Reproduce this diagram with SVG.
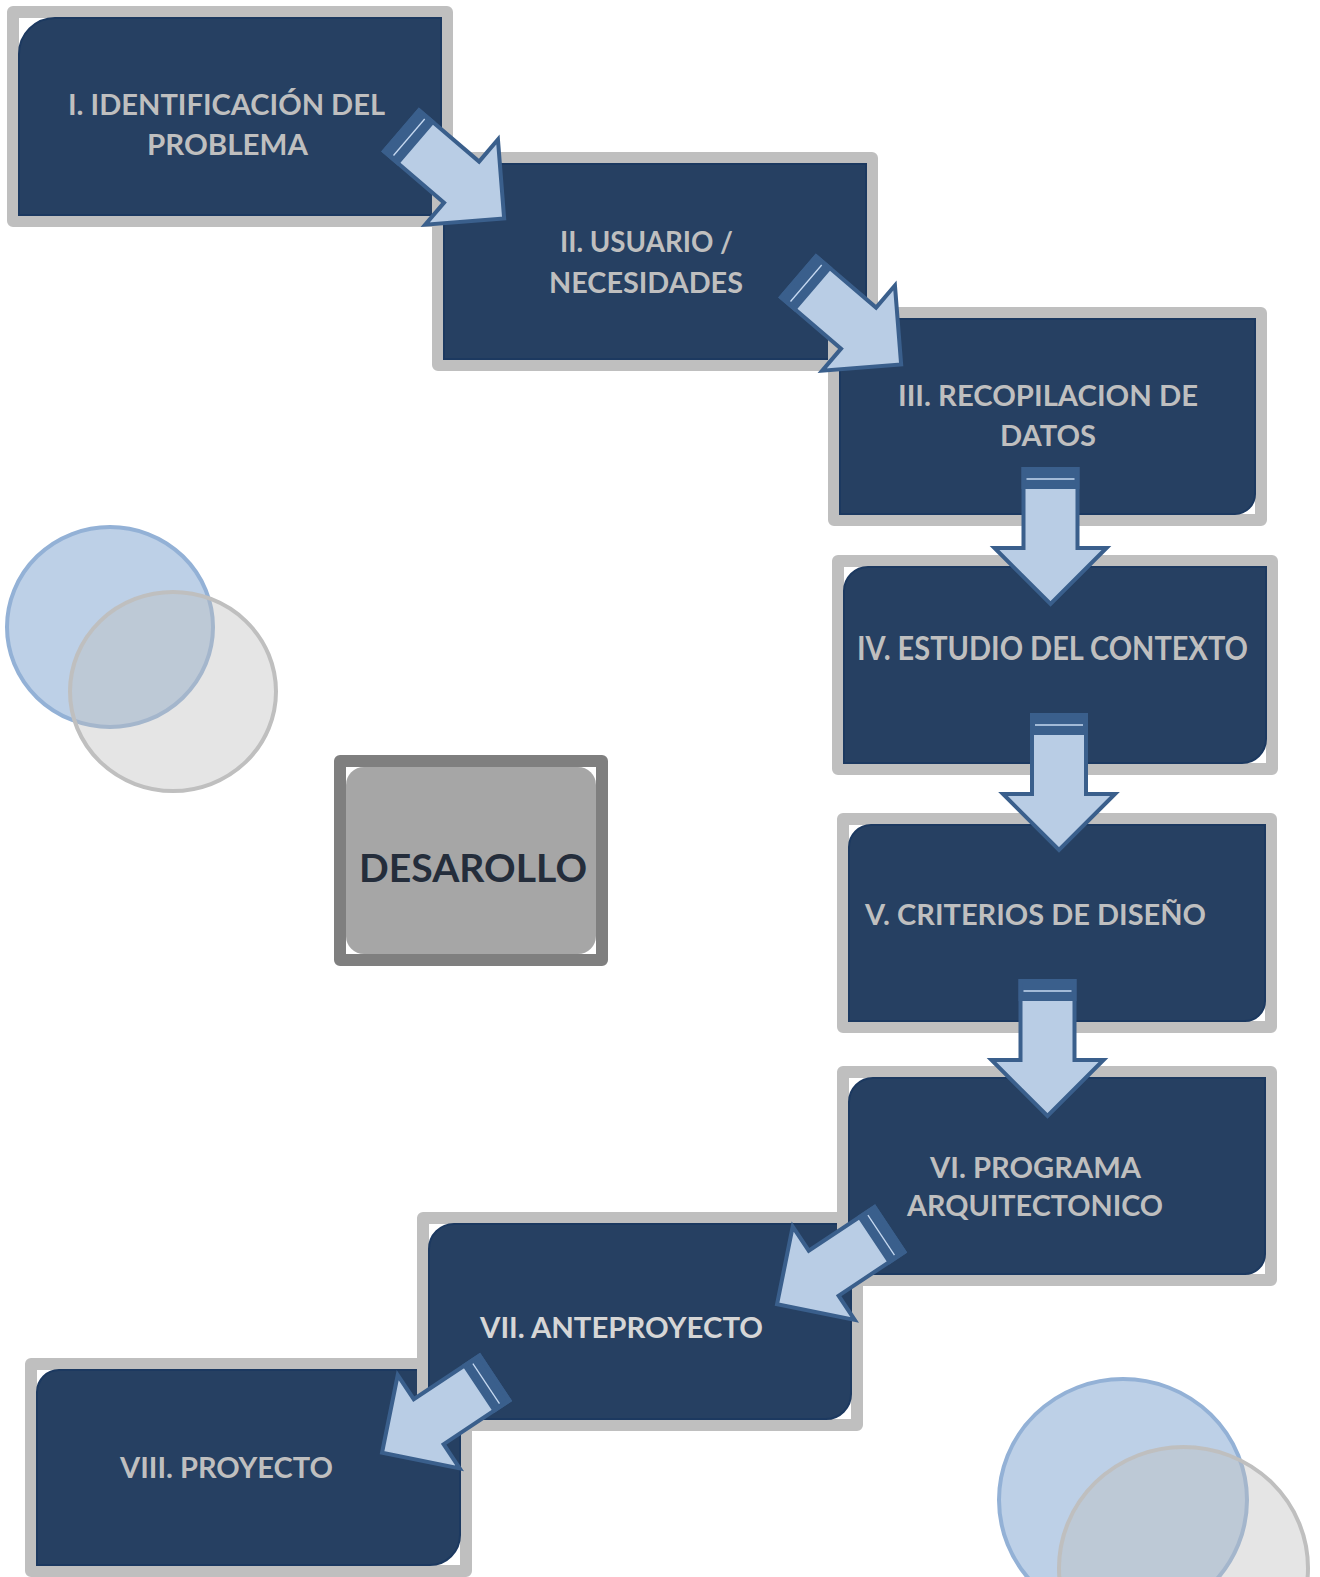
<svg xmlns="http://www.w3.org/2000/svg" xmlns:xlink="http://www.w3.org/1999/xlink" width="1320" height="1577" viewBox="0 0 1320 1577">
<style>
.frame{fill:#ffffff;stroke:#bfbfbf;stroke-width:12;stroke-linejoin:round}
.dark{fill:#264062;stroke:#1c3960;stroke-width:2}
.lbl{font-family:Lato,"Open Sans","Liberation Sans",sans-serif;font-weight:bold;font-size:28.6px;fill:#bfbfbf;text-anchor:middle}
.cb{fill:#bdd0e7;stroke:#93b1d6;stroke-width:4}
.cg{fill:#bfbfbf;fill-opacity:0.4;stroke:#bfbfbf;stroke-width:4}
</style>
<defs>
<g id="arr">
<path d="M0,-27 H79 V-56 L135,0 L79,56 V27 H0 Z" fill="#b9cde5" stroke="#3a5f8c" stroke-width="4" stroke-linejoin="miter"/>
<rect x="0" y="-27" width="18" height="54" fill="#3a5f8c" stroke="#3a5f8c" stroke-width="4"/>
<line x1="10" y1="-24" x2="10" y2="24" stroke="#c6d9f1" stroke-width="1.3"/>
</g>
</defs>
<g id="deco">
<ellipse class="cb" cx="110" cy="627" rx="103" ry="100"/>
<ellipse class="cg" cx="173" cy="691.5" rx="103" ry="99.5"/>
<ellipse class="cb" cx="1123" cy="1500" rx="124" ry="121"/>
<ellipse class="cg" cx="1183.5" cy="1568" rx="124.5" ry="121"/>
</g>
<g id="n1">
<rect class="frame" x="13" y="12" width="434" height="209"/>
<path class="dark" d="M55,18 H441 V215 H19 V54 A36,36 0 0 1 55,18 Z"/>
<text class="lbl" x="226.5" y="115" textLength="317" lengthAdjust="spacingAndGlyphs">I. IDENTIFICACIÓN DEL</text>
<text class="lbl" x="227.5" y="155" textLength="161" lengthAdjust="spacingAndGlyphs">PROBLEMA</text>
</g>
<g id="n2">
<rect class="frame" x="438" y="158" width="434" height="207"/>
<rect class="dark" x="444" y="164" width="422" height="195"/>
<text class="lbl" x="646.5" y="252" textLength="173" lengthAdjust="spacingAndGlyphs">II. USUARIO /</text>
<text class="lbl" x="646" y="293" textLength="194" lengthAdjust="spacingAndGlyphs">NECESIDADES</text>
</g>
<g id="n3">
<rect class="frame" x="834" y="313" width="427" height="207"/>
<path class="dark" d="M840,319 H1255 V494 A20,20 0 0 1 1235,514 H840 Z"/>
<text class="lbl" x="1048" y="406" textLength="300" lengthAdjust="spacingAndGlyphs">III. RECOPILACION DE</text>
<text class="lbl" x="1048" y="446" textLength="96" lengthAdjust="spacingAndGlyphs">DATOS</text>
</g>
<g id="n4">
<rect class="frame" x="838" y="561" width="434" height="208"/>
<path class="dark" d="M868,567 H1266 V739 A24,24 0 0 1 1242,763 H844 V591 A24,24 0 0 1 868,567 Z"/>
<text class="lbl" x="1052.5" y="660" style="font-size:33px" textLength="391" lengthAdjust="spacingAndGlyphs">IV. ESTUDIO DEL CONTEXTO</text>
</g>
<g id="n5">
<rect class="frame" x="843" y="819" width="428" height="208"/>
<path class="dark" d="M871,825 H1265 V1001 A20,20 0 0 1 1245,1021 H849 V847 A22,22 0 0 1 871,825 Z"/>
<text class="lbl" x="1035.5" y="925" style="font-size:29px" textLength="341" lengthAdjust="spacingAndGlyphs">V. CRITERIOS DE DISEÑO</text>
</g>
<g id="n8">
<rect class="frame" x="31" y="1364" width="435" height="207"/>
<path class="dark" d="M59,1370 H460 V1535 A30,30 0 0 1 430,1565 H37 V1392 A22,22 0 0 1 59,1370 Z"/>
<text class="lbl" x="226.5" y="1478" textLength="213" lengthAdjust="spacingAndGlyphs">VIII. PROYECTO</text>
</g>
<g id="n7">
<rect class="frame" x="423" y="1218" width="434" height="207"/>
<path class="dark" d="M454,1224 H851 V1394 A25,25 0 0 1 826,1419 H429 V1249 A25,25 0 0 1 454,1224 Z"/>
<text class="lbl" x="621.5" y="1338" style="fill:#d6d6d6" textLength="283" lengthAdjust="spacingAndGlyphs">VII. ANTEPROYECTO</text>
</g>
<g id="n6">
<rect class="frame" x="843" y="1072" width="428" height="208"/>
<path class="dark" d="M873,1078 H1265 V1254 A20,20 0 0 1 1245,1274 H849 V1102 A24,24 0 0 1 873,1078 Z"/>
<text class="lbl" x="1035.5" y="1178" textLength="211" lengthAdjust="spacingAndGlyphs">VI. PROGRAMA</text>
<text class="lbl" x="1035" y="1216" textLength="256" lengthAdjust="spacingAndGlyphs">ARQUITECTONICO</text>
</g>
<g id="desarollo">
<rect x="340" y="761" width="262" height="199" fill="#ffffff" stroke="#7f7f7f" stroke-width="12" stroke-linejoin="round"/>
<rect x="346" y="767" width="250" height="187" rx="18" fill="#a6a6a6"/>
<text x="473" y="882" style="font-family:Lato,'Open Sans','Liberation Sans',sans-serif;font-weight:bold;font-size:39px;fill:#242d3b;text-anchor:middle" textLength="228" lengthAdjust="spacingAndGlyphs">DESAROLLO</text>
</g>
<g id="connectors">
<use xlink:href="#arr" transform="translate(401.5,130.8) rotate(40.5)"/>
<use xlink:href="#arr" transform="translate(798.5,276.8) rotate(40.5)"/>
<use xlink:href="#arr" transform="translate(1050.5,469) rotate(90)"/>
<use xlink:href="#arr" transform="translate(1059,715) rotate(90)"/>
<use xlink:href="#arr" transform="translate(1047.5,981) rotate(90)"/>
<use xlink:href="#arr" transform="translate(889.5,1229.5) rotate(146.4)"/>
<use xlink:href="#arr" transform="translate(494.5,1378) rotate(146.4)"/>
</g>
</svg>
